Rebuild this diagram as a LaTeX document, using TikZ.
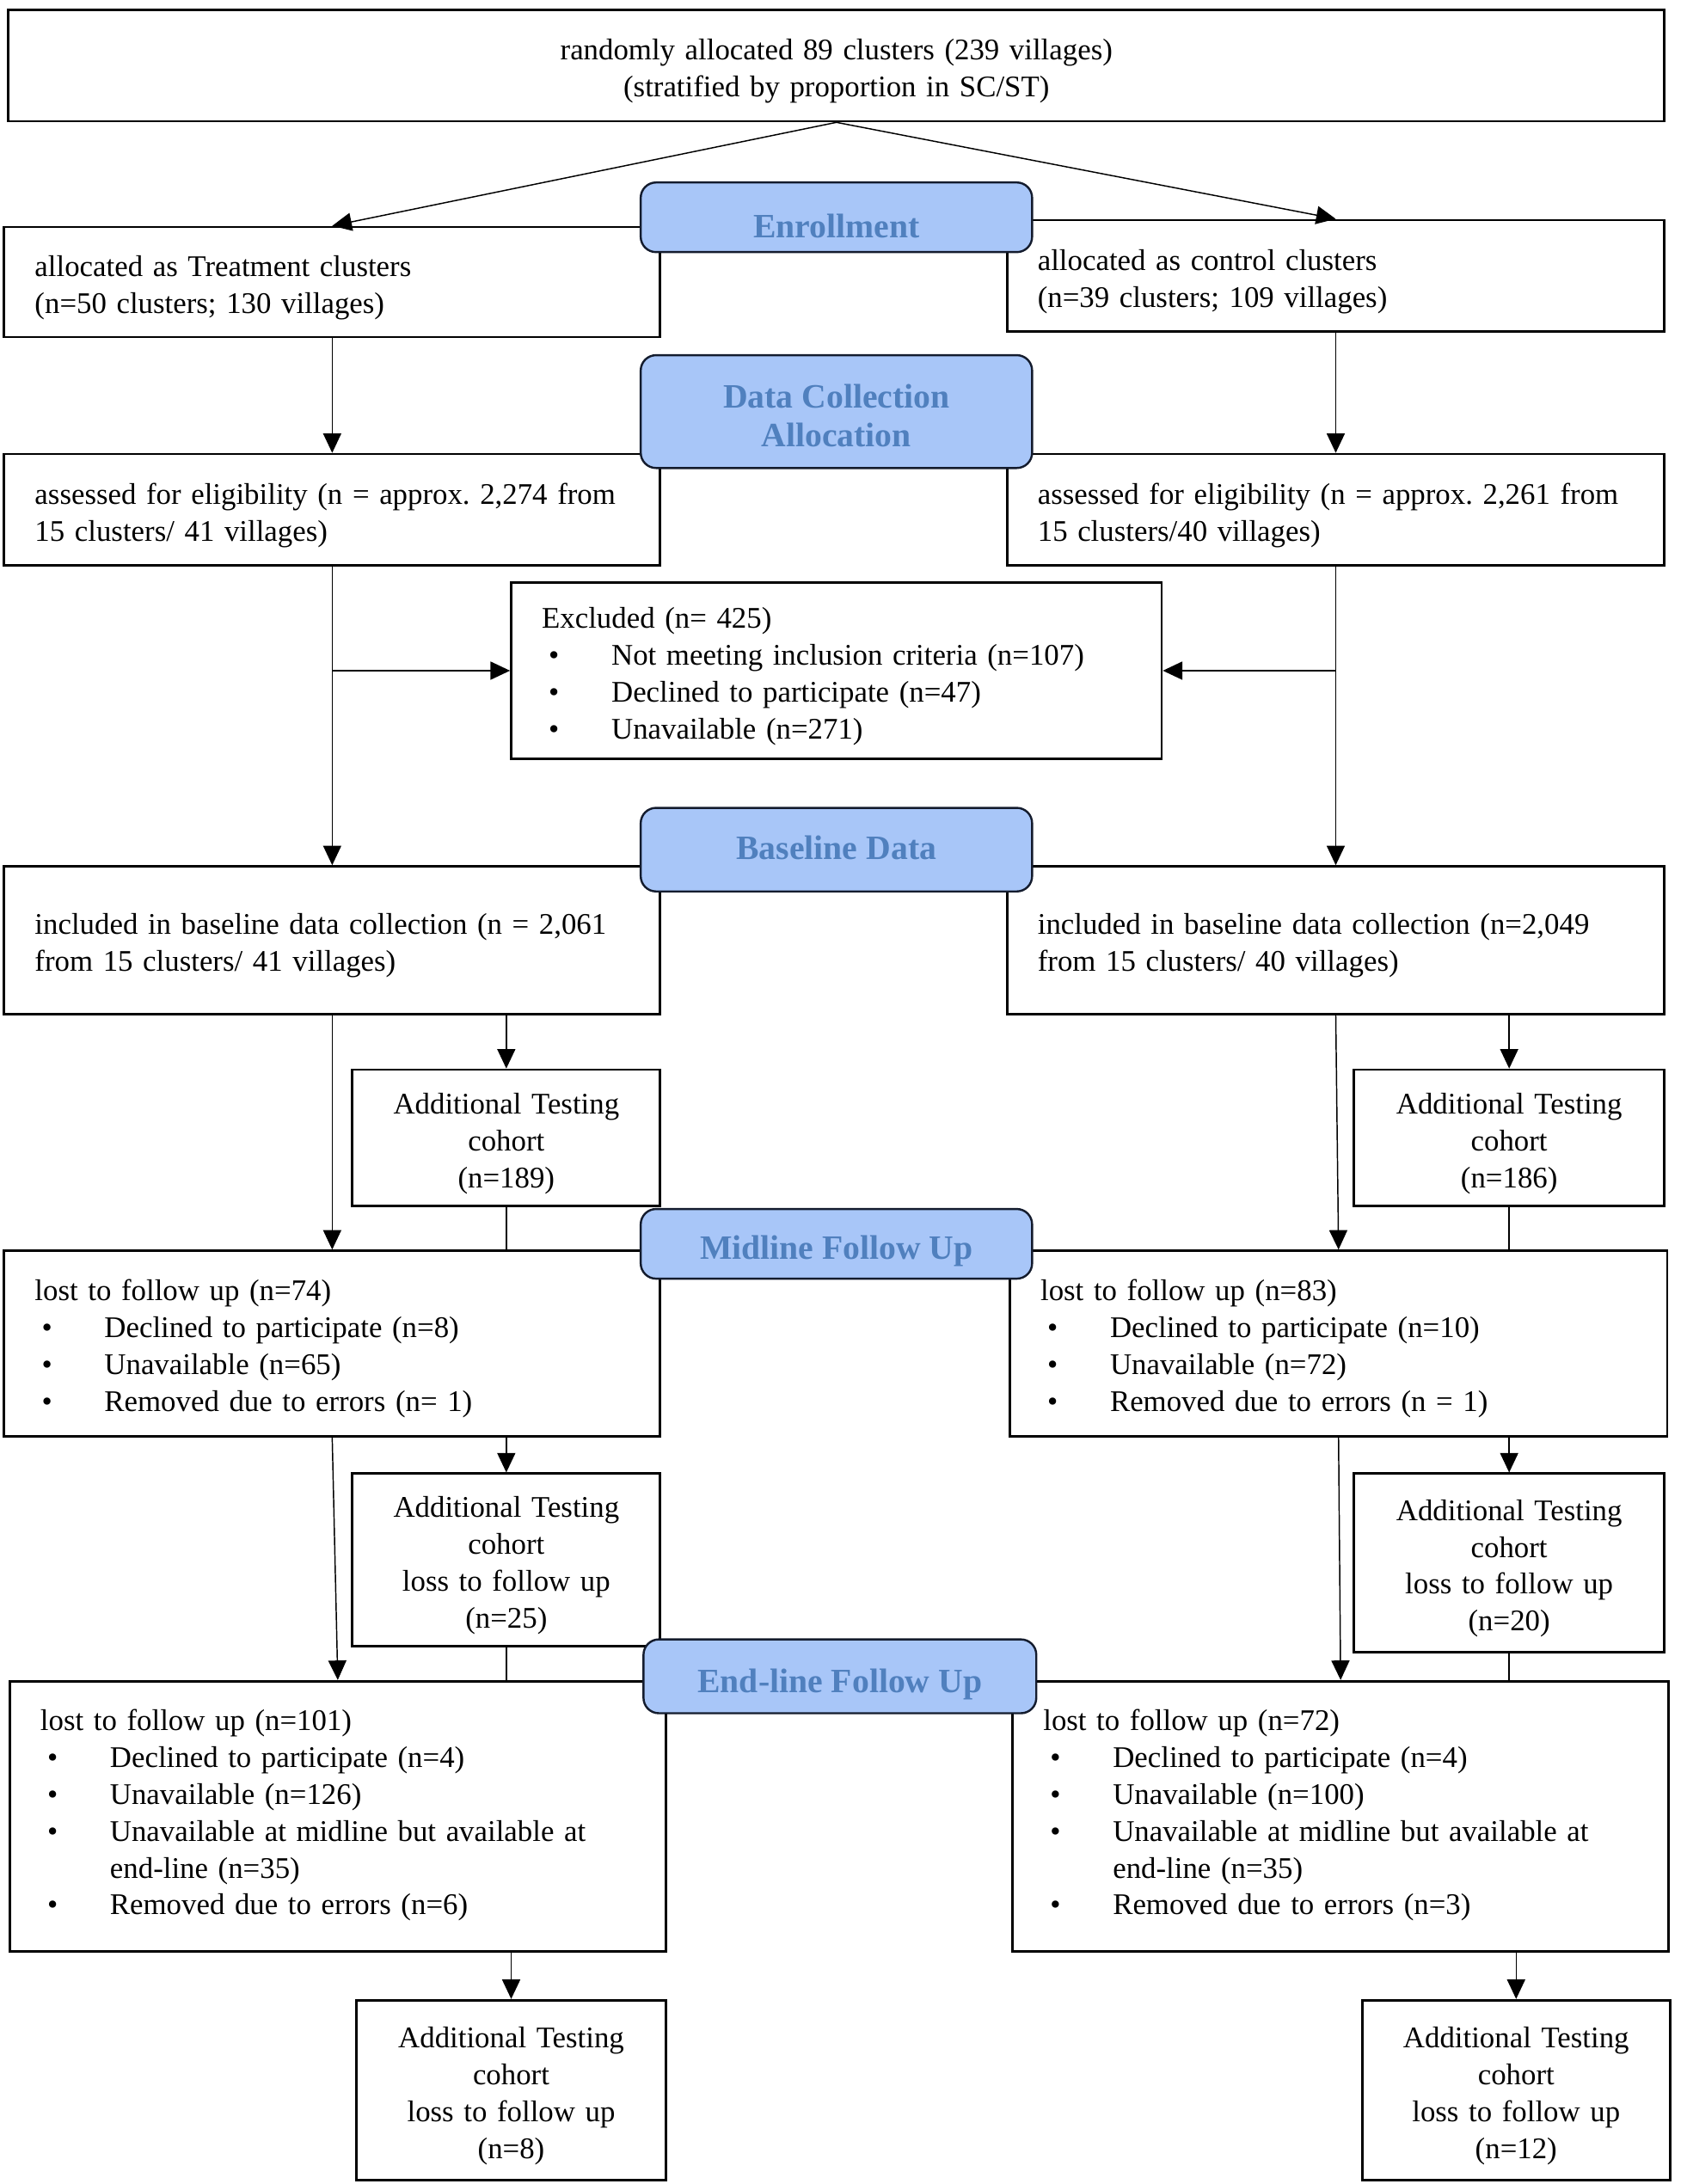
\documentclass[tikz,border=0pt]{standalone}
\usepackage{fontspec}
\setmainfont{Liberation Serif}
\usetikzlibrary{arrows.meta}
\definecolor{lblfill}{HTML}{A8C6F8}
\definecolor{lbltext}{HTML}{5080BE}
\definecolor{lbldraw}{HTML}{141C2E}
\newcommand{\bul}[1]{\makebox[50pt][l]{\hspace{5pt}\textbullet}#1}
\frenchspacing
\begin{document}
\begin{tikzpicture}[x=1pt,y=-1pt,
  box/.style={draw, line width=1.7pt, fill=white, inner xsep=22pt, inner ysep=0pt,
    font=\fontsize{21.5}{26.5}\selectfont\frenchspacing,
    execute at begin node={\rule{0pt}{23pt}}},
  lbox/.style={box, align=left},
  cbox/.style={box, align=center},
  endbox/.style={lbox, execute at begin node={},
    execute at end node={\rule[-14pt]{0pt}{14pt}}},
  lbl/.style={draw=lbldraw, line width=1.5pt, fill=lblfill, rounded corners=11pt,
    text=lbltext, align=center, inner sep=0pt,
    font=\fontsize{24.5}{28}\selectfont\bfseries},
  conn/.style={line width=0.9pt},
  arr/.style={conn, -{Triangle[length=14pt,width=13pt]}}
]
\fill[white] (0,0) rectangle (1210.6,1568);
\useasboundingbox (0,0) rectangle (1210.6,1568);

% boxes
\node[cbox, minimum width=1189pt, minimum height=80pt, text width=1145pt] (top) at (600.5,47)
  {randomly allocated 89 clusters (239 villages)\\(stratified by proportion in SC/ST)};
\node[lbox, minimum width=471pt, minimum height=79pt, text width=427pt] (treat) at (238.5,202.5)
  {allocated as Treatment clusters\\(n=50 clusters; 130 villages)};
\node[lbox, minimum width=472pt, minimum height=80pt, text width=428pt] (ctrl) at (959,198)
  {allocated as control clusters\\(n=39 clusters; 109 villages)};
\node[lbox, minimum width=471pt, minimum height=80pt, text width=427pt] (assL) at (238.5,366)
  {\mbox{assessed for eligibility (n = approx. 2,274 from}\\15 clusters/ 41 villages)};
\node[lbox, minimum width=472pt, minimum height=80pt, text width=428pt] (assR) at (959,366)
  {\mbox{assessed for eligibility (n = approx. 2,261 from}\\15 clusters/40 villages)};
\node[lbox, minimum width=467pt, minimum height=127pt, text width=423pt] (excl) at (600.5,481.5)
  {Excluded (n= 425)\\\bul{Not meeting inclusion criteria (n=107)}\\\bul{Declined to participate (n=47)}\\\bul{Unavailable (n=271)}};
\node[lbox, minimum width=471pt, minimum height=106pt, text width=427pt] (inclL) at (238.5,675)
  {\mbox{included in baseline data collection (n = 2,061}\\from 15 clusters/ 41 villages)};
\node[lbox, minimum width=472pt, minimum height=106pt, text width=428pt] (inclR) at (959,675)
  {\mbox{included in baseline data collection (n=2,049}\\from 15 clusters/ 40 villages)};
\node[cbox, minimum width=221pt, minimum height=98pt, text width=200pt, inner xsep=0pt] (addAL) at (363.5,817)
  {Additional Testing\\cohort\\(n=189)};
\node[cbox, minimum width=223pt, minimum height=98pt, text width=200pt, inner xsep=0pt] (addAR) at (1083.5,817)
  {Additional Testing\\cohort\\(n=186)};
\node[lbox, minimum width=471pt, minimum height=133pt, text width=427pt] (lostL) at (238.5,964.5)
  {lost to follow up (n=74)\\\bul{Declined to participate (n=8)}\\\bul{Unavailable (n=65)}\\\bul{Removed due to errors (n= 1)}};
\node[lbox, minimum width=472pt, minimum height=133pt, text width=428pt] (lostR) at (961,964.5)
  {lost to follow up (n=83)\\\bul{Declined to participate (n=10)}\\\bul{Unavailable (n=72)}\\\bul{Removed due to errors (n = 1)}};
\node[cbox, minimum width=221pt, minimum height=124pt, text width=200pt, inner xsep=0pt] (addBL) at (363.5,1120)
  {Additional Testing\\cohort\\loss to follow up\\(n=25)};
\node[cbox, minimum width=223pt, minimum height=128pt, text width=200pt, inner xsep=0pt] (addBR) at (1083.5,1122)
  {Additional Testing\\cohort\\loss to follow up\\(n=20)};
\node[endbox, minimum width=471pt, minimum height=194pt, text width=427pt] (endL) at (242.5,1304)
  {lost to follow up (n=101)\\\bul{Declined to participate (n=4)}\\\bul{Unavailable (n=126)}\\\bul{Unavailable at midline but available at}\\\hspace*{50pt}end-line (n=35)\\\bul{Removed due to errors (n=6)}};
\node[endbox, minimum width=471pt, minimum height=194pt, text width=427pt] (endR) at (962.5,1304)
  {lost to follow up (n=72)\\\bul{Declined to participate (n=4)}\\\bul{Unavailable (n=100)}\\\bul{Unavailable at midline but available at}\\\hspace*{50pt}end-line (n=35)\\\bul{Removed due to errors (n=3)}};
\node[cbox, minimum width=222pt, minimum height=129pt, text width=200pt, inner xsep=0pt] (addCL) at (367,1500.5)
  {Additional Testing\\cohort\\loss to follow up\\(n=8)};
\node[cbox, minimum width=221pt, minimum height=129pt, text width=200pt, inner xsep=0pt] (addCR) at (1088.5,1500.5)
  {Additional Testing\\cohort\\loss to follow up\\(n=12)};

% connectors
\draw[arr] (top.south) -- (treat.north);
\draw[arr] (top.south) -- (ctrl.north);
\draw[arr] (treat.south) -- (assL.north);
\draw[arr] (ctrl.south) -- (assR.north);
\draw[arr] (assL.south) -- (inclL.north);
\draw[arr] (assR.south) -- (inclR.north);
\draw[arr] (assL.south |- excl.west) -- (excl.west);
\draw[arr] (assR.south |- excl.east) -- (excl.east);
\draw[arr] (addAL.north |- inclL.south) -- (addAL.north);
\draw[arr] (addAR.north |- inclR.south) -- (addAR.north);
\draw[arr] (inclL.south) -- (lostL.north);
\draw[arr] (inclR.south) -- (lostR.north);
\draw[conn] (addAL.south) -- (addAL.south |- lostL.north);
\draw[conn] (addAR.south) -- (addAR.south |- lostR.north);
\draw[arr] (addBL.north |- lostL.south) -- (addBL.north);
\draw[arr] (addBR.north |- lostR.south) -- (addBR.north);
\draw[arr] (lostL.south) -- (endL.north);
\draw[arr] (lostR.south) -- (endR.north);
\draw[conn] (addBL.south) -- (addBL.south |- endL.north);
\draw[conn] (addBR.south) -- (addBR.south |- endR.north);
\draw[arr] (addCL.north |- endL.south) -- (addCL.north);
\draw[arr] (addCR.north |- endR.south) -- (addCR.north);

% stage labels
\node[lbl, minimum width=281pt, minimum height=50pt, text height=29pt, text depth=0pt] (enr) at (600.5,156) {Enrollment};
\node[lbl, minimum width=281pt, minimum height=81pt] (dca) at (600.5,295.5) {\rule{0pt}{23pt}Data Collection\\Allocation};
\node[lbl, minimum width=281pt, minimum height=60pt, text height=14.5pt, text depth=0pt] (base) at (600.5,610) {Baseline Data};
\node[lbl, minimum width=281pt, minimum height=50pt, text height=21.6pt, text depth=0pt] (mid) at (600.5,893) {Midline Follow Up};
\node[lbl, minimum width=282pt, minimum height=53pt, text height=23pt, text depth=0pt] (endlbl) at (603,1203.5) {End-line Follow Up};
\end{tikzpicture}
\end{document}
